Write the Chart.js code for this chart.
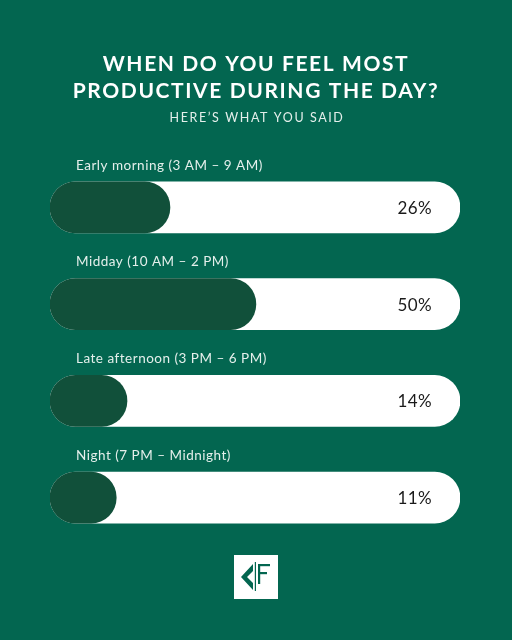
<!DOCTYPE html>
<html>
<head>
<meta charset="utf-8">
<script src="https://cdn.jsdelivr.net/npm/chart.js@4.4.1/dist/chart.umd.min.js"></script>
<style>
    html, body { margin: 0; padding: 0; background: #036650; }
    #wrap { width: 512px; height: 640px; position: relative; }
</style>
</head>
<body>
<div id="wrap"><canvas id="productiveChart" width="512" height="640"></canvas></div>
<script>
const categories = [
    'Early morning (3 AM \u2013 9 AM)',
    'Midday (10 AM \u2013 2 PM)',
    'Late afternoon (3 PM \u2013 6 PM)',
    'Night (7 PM \u2013 Midnight)'
];
const percentValues = [26, 50, 14, 11];
const percentLabels = ['26%', '50%', '14%', '11%'];
const titleLines = ['WHEN DO YOU FEEL MOST', 'PRODUCTIVE DURING THE DAY?'];
const subtitleText = 'HERE\u2019S WHAT YOU SAID';

// the rounded caps eat part of the track, so the scale starts a bit below zero
const scaleMin = -7.5;
const scaleMax = 107;

const bgColor = '#036650';
const fillColor = '#11503a';
const fontFamily = 'Lato, "Open Sans", sans-serif';

const textPlugin = {
    id: 'textPlugin',
    beforeDraw(chart) {
        const ctx = chart.ctx;
        ctx.save();
        ctx.fillStyle = bgColor;
        ctx.fillRect(0, 0, chart.width, chart.height);
        ctx.restore();
    },
    afterDraw(chart) {
        const ctx = chart.ctx;
        const meta = chart.getDatasetMeta(0);
        ctx.save();

        // title
        ctx.fillStyle = '#ffffff';
        ctx.textAlign = 'center';
        ctx.textBaseline = 'middle';
        ctx.letterSpacing = '1.6px';
        ctx.font = 'bold 21px ' + fontFamily;
        titleLines.forEach((line, i) => {
            ctx.fillText(line, 256, 64 + i * 27);
        });
        ctx.letterSpacing = '1.6px';
        ctx.font = '12.5px ' + fontFamily;
        ctx.fillStyle = '#e4efeb';
        ctx.fillText(subtitleText, 257, 118);

        // category labels above each bar + value labels inside
        categories.forEach((cat, i) => {
            const bar = meta.data[i];
            ctx.letterSpacing = '0.5px';
            ctx.textAlign = 'left';
            ctx.font = '13.5px ' + fontFamily;
            ctx.fillStyle = '#e4efeb';
            ctx.fillText(cat, 76, bar.y - 42);
            ctx.letterSpacing = '0.4px';
            ctx.textAlign = 'right';
            ctx.font = '17px ' + fontFamily;
            ctx.fillStyle = '#1a1a1a';
            ctx.fillText(percentLabels[i], 432, bar.y + 1);
        });

        // logo
        ctx.letterSpacing = '0px';
        ctx.fillStyle = '#ffffff';
        ctx.fillRect(234, 555, 44, 44);
        ctx.fillStyle = bgColor;
        ctx.beginPath();
        ctx.moveTo(253, 564);
        ctx.lineTo(241, 577);
        ctx.lineTo(253, 590);
        ctx.lineTo(253, 583);
        ctx.lineTo(247, 577);
        ctx.lineTo(253, 571);
        ctx.closePath();
        ctx.fill();
        ctx.fillRect(254.8, 562, 1.2, 29);
        ctx.fillRect(258, 564, 2.2, 20);
        ctx.fillRect(258, 564, 12, 2.2);
        ctx.fillRect(258, 572, 9, 2.2);
        ctx.restore();
    }
};

new Chart(document.getElementById('productiveChart').getContext('2d'), {
    type: 'bar',
    data: {
        labels: categories,
        datasets: [{
            data: percentValues,
            base: scaleMin,
            backgroundColor: fillColor,
            borderRadius: 26,
            borderSkipped: false,
            barThickness: 51,
            grouped: false
        }, {
            data: categories.map(() => scaleMax),
            base: scaleMin,
            backgroundColor: '#ffffff',
            borderRadius: 26,
            borderSkipped: false,
            barThickness: 51,
            grouped: false
        }]
    },
    options: {
        indexAxis: 'y',
        responsive: false,
        animation: false,
        layout: {
            padding: {top: 159, bottom: 94, left: 50, right: 52}
        },
        scales: {
            x: {display: false, min: scaleMin, max: scaleMax},
            y: {display: false}
        },
        plugins: {
            legend: {display: false},
            tooltip: {enabled: false},
            title: {display: false}
        }
    },
    plugins: [textPlugin]
});
</script>
</body>
</html>
